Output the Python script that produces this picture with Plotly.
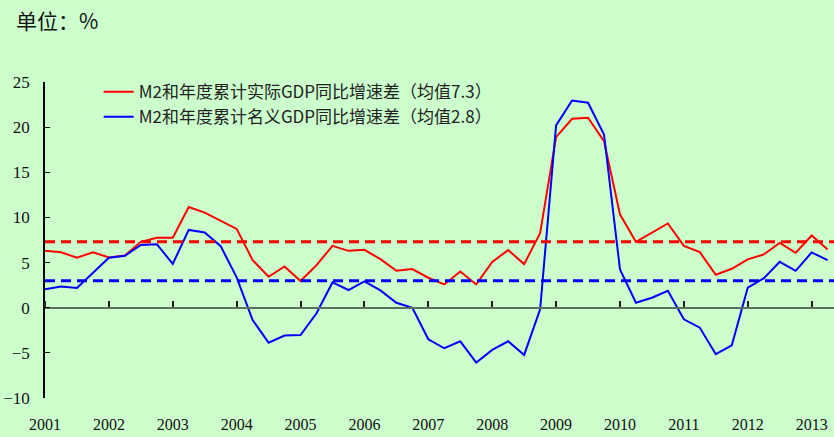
import plotly.graph_objects as go

# Quarterly data, 2001Q1 .. 2013Q2
years = list(range(2001, 2014))
quarters = [2001 + i * 0.25 for i in range(50)]

real_gap = [6.30, 6.15, 5.53, 6.15, 5.57, 5.79, 7.30, 7.74, 7.74, 11.16,
            10.54, 9.61, 8.73, 5.27, 3.43, 4.57, 2.95, 4.72, 6.85, 6.30,
            6.41, 5.38, 4.09, 4.28, 3.32, 2.58, 4.02, 2.58, 5.08, 6.38,
            4.83, 8.25, 18.90, 20.93, 21.04, 18.45, 10.35, 7.29, 8.30, 9.33,
            6.85, 6.15, 3.65, 4.31, 5.35, 5.90, 7.18, 6.08, 8.00, 6.45]

nominal_gap = [2.03, 2.36, 2.18, 3.91, 5.53, 5.75, 6.96, 7.04, 4.86, 8.62,
               8.33, 6.82, 3.36, -1.36, -3.87, -3.09, -3.02, -0.62, 2.80, 1.96,
               2.91, 1.92, 0.55, 0.00, -3.50, -4.49, -3.72, -6.07, -4.67, -3.72,
               -5.23, -0.18, 20.19, 22.95, 22.70, 19.19, 4.24, 0.55, 1.10, 1.88,
               -1.28, -2.21, -5.15, -4.16, 2.21, 3.25, 5.08, 4.09, 6.12, 5.27]

real_mean = 7.3
nominal_mean_line = 3.0

x_range = [2001, 2013.35]
y_ticks = [-10, -5, 0, 5, 10, 15, 20, 25]

real_name = "M2和年度累计实际GDP同比增速差（均值7.3）"
nominal_name = "M2和年度累计名义GDP同比增速差（均值2.8）"

RED = "#FF0000"
BLUE = "#0000FF"
BG = "#CCFFCC"
serif = "Liberation Serif, Times New Roman, serif"
cjk = "Noto Sans CJK SC, sans-serif"

fig = go.Figure()

# mean lines on the overlay axis (so that axis gets drawn)
fig.add_trace(go.Scatter(x=x_range, y=[real_mean, real_mean], mode="lines",
                         line=dict(color=RED, width=3, dash="10px,6px"),
                         showlegend=False, hoverinfo="skip", xaxis="x2"))
fig.add_trace(go.Scatter(x=x_range, y=[nominal_mean_line, nominal_mean_line], mode="lines",
                         line=dict(color=BLUE, width=3, dash="10px,6px"),
                         showlegend=False, hoverinfo="skip", xaxis="x2"))

fig.add_trace(go.Scatter(x=quarters, y=real_gap, mode="lines", name=real_name,
                         line=dict(color=RED, width=2)))
fig.add_trace(go.Scatter(x=quarters, y=nominal_gap, mode="lines", name=nominal_name,
                         line=dict(color=BLUE, width=2)))

fig.update_layout(
    width=834, height=437,
    margin=dict(l=45, r=0, t=82, b=39, autoexpand=False),
    paper_bgcolor=BG, plot_bgcolor=BG,
    font=dict(family=serif, size=16, color="#000000"),
    showlegend=True,
    legend=dict(x=0.068, y=1.025, xanchor="left", yanchor="top",
                bgcolor="rgba(0,0,0,0)", font=dict(family=cjk, size=17, color="#222222"),
                itemwidth=30),
    xaxis=dict(range=x_range, tickvals=years, ticktext=[str(y) for y in years],
               showgrid=False, zeroline=False, showline=False, ticks="",
               automargin=False,
               ticklabelstandoff=15, tickfont=dict(family=serif, size=16, color="#111111")),
    xaxis2=dict(range=x_range, overlaying="x", anchor="free", position=10 / 35,
                side="top", showgrid=False, zeroline=False, showline=True,
                linecolor="#5F6F5F", linewidth=2, ticks="outside", ticklen=6,
                tickcolor="#222222", tickwidth=1.5, tickmode="array", tickvals=years,
                ticktext=[""] * len(years), automargin=False,
                showticklabels=True, tickfont=dict(size=1)),
    yaxis=dict(range=[-10, 25], tickvals=y_ticks, showgrid=False, zeroline=False,
               showline=True, linecolor="#000000", linewidth=1.5, automargin=False,
               ticks="inside", ticklen=5, tickcolor="#000000",
               ticklabelstandoff=10, tickfont=dict(family=serif, size=17, color="#111111")),
    annotations=[dict(text="单位：%", xref="paper", yref="paper", x=-31 / 789, y=1 + 62 / 317,
                      xanchor="left", yanchor="middle", showarrow=False,
                      font=dict(family=cjk, size=21, color="#111111"))],
)

fig.write_html("out.html", config={"displayModeBar": False},
               post_script="document.body.style.margin='0';")
